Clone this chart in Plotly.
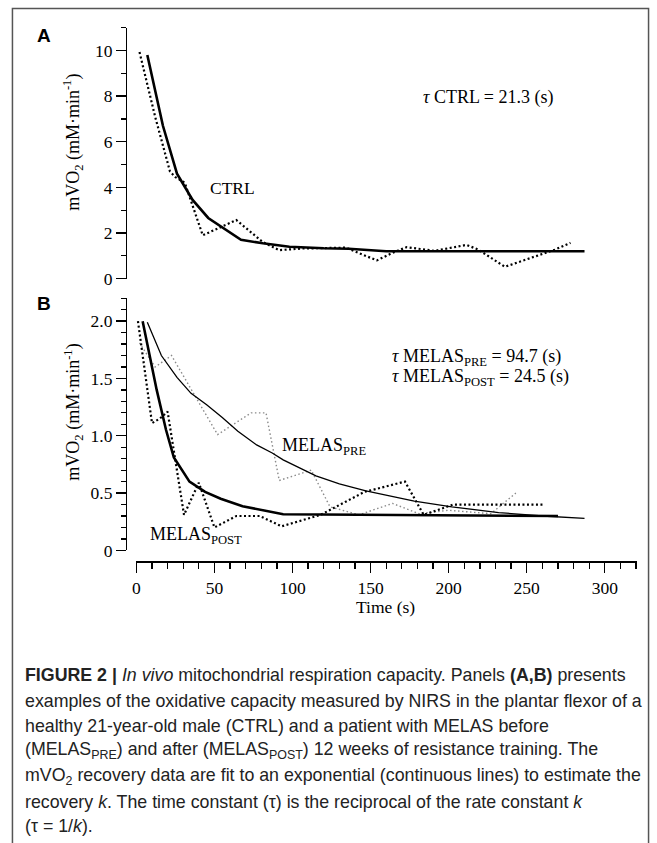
import plotly.graph_objects as go

# ---------------- data ----------------
ctrl_fit_t = [7, 17, 26, 36, 46, 57, 67, 81, 98, 120, 136, 160, 287]
ctrl_fit_v = [9.8, 6.7, 4.6, 3.45, 2.66, 2.15, 1.7, 1.55, 1.4, 1.33, 1.31, 1.2, 1.2]

ctrl_data_t = [2, 12, 21.5, 25, 31, 42.5, 64, 81, 91.5, 106, 134, 154, 164, 173, 191, 211.5, 219, 236, 268, 278]
ctrl_data_v = [9.93, 7.1, 4.7, 4.45, 4.2, 1.9, 2.57, 1.6, 1.25, 1.32, 1.36, 0.8, 1.13, 1.38, 1.22, 1.48, 1.27, 0.52, 1.27, 1.57]

pre_fit_t = [7, 16, 26, 35, 45, 55, 65, 77, 87, 94, 115, 130, 147, 157, 178, 202, 232, 260, 287]
pre_fit_v = [1.99, 1.70, 1.51, 1.37, 1.27, 1.16, 1.04, 0.92, 0.85, 0.79, 0.65, 0.58, 0.52, 0.49, 0.43, 0.38, 0.33, 0.30, 0.28]

pre_data_t = [2, 12, 22.5, 52, 73.5, 83, 91.5, 112, 124, 142.5, 164, 181, 200, 227, 243]
pre_data_v = [1.81, 1.60, 1.70, 1.01, 1.20, 1.20, 0.61, 0.70, 0.38, 0.31, 0.41, 0.32, 0.35, 0.32, 0.50]

post_fit_t = [4, 13, 19, 24, 34, 44, 54, 68, 94, 270]
post_fit_v = [2.0, 1.40, 1.05, 0.81, 0.60, 0.51, 0.45, 0.385, 0.315, 0.30]

post_data_t = [1, 10, 15, 20, 30.5, 40, 50, 64, 79, 93, 118, 146, 172, 184, 203, 261]
post_data_v = [2.0, 1.11, 1.15, 1.21, 0.31, 0.59, 0.20, 0.30, 0.30, 0.21, 0.31, 0.51, 0.60, 0.31, 0.40, 0.40]

x_ticks = [0, 50, 100, 150, 200, 250, 300]
ya_ticks = [0, 2, 4, 6, 8, 10]
yb_ticks = [0, 0.5, 1.0, 1.5, 2.0]
yb_ticktext = ["0", "0.5", "1.0", "1.5", "2.0"]

# ---------------- layout helpers ----------------
W, H = 657, 843
def px(x):
    return x / W
def py(y):
    return 1 - y / H

SERIF = "Liberation Serif, Times New Roman, serif"
SANS = "Liberation Sans, Arial, sans-serif"

fig = go.Figure()

# Panel A
fig.add_trace(go.Scatter(x=ctrl_data_t, y=ctrl_data_v, mode="lines",
                         line=dict(color="black", width=2.2, dash="2px,2.5px"),
                         xaxis="x", yaxis="y", showlegend=False, hoverinfo="skip"))
fig.add_trace(go.Scatter(x=ctrl_fit_t, y=ctrl_fit_v, mode="lines",
                         line=dict(color="black", width=2.6),
                         xaxis="x", yaxis="y", showlegend=False, hoverinfo="skip"))

# Panel B
fig.add_trace(go.Scatter(x=pre_data_t, y=pre_data_v, mode="lines",
                         line=dict(color="#8a8a8a", width=1.4, dash="1.5px,2.5px"),
                         xaxis="x2", yaxis="y2", showlegend=False, hoverinfo="skip"))
fig.add_trace(go.Scatter(x=post_data_t, y=post_data_v, mode="lines",
                         line=dict(color="black", width=2.2, dash="2px,2.5px"),
                         xaxis="x2", yaxis="y2", showlegend=False, hoverinfo="skip"))
fig.add_trace(go.Scatter(x=pre_fit_t, y=pre_fit_v, mode="lines",
                         line=dict(color="black", width=1.3),
                         xaxis="x2", yaxis="y2", showlegend=False, hoverinfo="skip"))
fig.add_trace(go.Scatter(x=post_fit_t, y=post_fit_v, mode="lines",
                         line=dict(color="black", width=2.6),
                         xaxis="x2", yaxis="y2", showlegend=False, hoverinfo="skip"))

x_dom = [px(133.2), px(636.5)]
x_rng = [0, (636.5 - 133.2) / 1.571]

tickfont = dict(family=SERIF, size=17.5, color="black")

yaxis_common = dict(anchor="free", position=px(122.7), side="left",
                    showline=True, linecolor="black", linewidth=1.3,
                    ticks="outside", ticklen=10, tickwidth=1.3, tickcolor="black",
                    showgrid=False, zeroline=False, tickfont=tickfont,
                    fixedrange=True)

fig.update_layout(
    width=W, height=H,
    margin=dict(l=0, r=0, t=0, b=0),
    paper_bgcolor="white", plot_bgcolor="white",
    xaxis=dict(domain=x_dom, range=x_rng, anchor="y", visible=False, fixedrange=True),
    yaxis=dict(domain=[py(282), py(28)], range=[0, 11],
               tickvals=ya_ticks, ticktext=[str(v) for v in ya_ticks],
               minor=dict(tickvals=[1, 3, 5, 7, 9, 11], ticks="outside",
                          ticklen=5, tickwidth=1.3, tickcolor="black", showgrid=False),
               **yaxis_common),
    xaxis2=dict(domain=x_dom, range=x_rng, anchor="free", position=py(568),
                showline=True, linecolor="black", linewidth=1.3,
                ticks="outside", ticklen=10, tickwidth=1.3, tickcolor="black",
                tickvals=x_ticks, ticktext=[str(v) for v in x_ticks],
                minor=dict(dtick=10, tick0=0, ticks="outside", ticklen=6,
                           tickwidth=1.3, tickcolor="black", showgrid=False),
                showgrid=False, zeroline=False, tickfont=tickfont, fixedrange=True),
    yaxis2=dict(domain=[py(557), py(301.8)], range=[0, 2.2],
                tickvals=yb_ticks, ticktext=yb_ticktext,
                minor=dict(dtick=0.1, tick0=0, ticks="outside",
                           ticklen=5, tickwidth=1.3, tickcolor="black", showgrid=False),
                **yaxis_common),
)

ann = []
def add_text(text, x, y, size=17.5, family=SERIF, xanchor="center", yanchor="middle",
             angle=0, color="black"):
    ann.append(dict(text=text, x=px(x), y=py(y), xref="paper", yref="paper",
                    xanchor=xanchor, yanchor=yanchor, showarrow=False,
                    textangle=angle, font=dict(family=family, size=size, color=color)))

# panel letters
add_text("<b>A</b>", 40, 36, size=19, family=SANS)
add_text("<b>B</b>", 40, 307, size=19, family=SANS)

# axis titles
ytitle = "mVO<sub>2</sub> (mM·min<sup>-1</sup>)"
add_text(ytitle, 69, 144, size=18, angle=-90)
add_text(ytitle, 69, 417, size=18, angle=-90)
add_text("Time (s)", 384, 614)

# in-plot labels
add_text("<i>τ</i> CTRL = 21.3 (s)", 420, 98.5, size=18, xanchor="left")
add_text("CTRL", 229.5, 190.5)
add_text("<i>τ</i> MELAS<sub>PRE</sub> = 94.7 (s)", 388, 362, size=18, xanchor="left")
add_text("<i>τ</i> MELAS<sub>POST</sub> = 24.5 (s)", 388, 382, size=18, xanchor="left")
add_text("MELAS<sub>PRE</sub>", 278, 452, size=18, xanchor="left")
add_text("MELAS<sub>POST</sub>", 145, 542, size=18, xanchor="left")

# caption
caption_lines = [
    "<b>FIGURE 2 |</b> <i>In vivo</i> mitochondrial respiration capacity. Panels <b>(A,B)</b> presents",
    "examples of the oxidative capacity measured by NIRS in the plantar flexor of a",
    "healthy 21-year-old male (CTRL) and a patient with MELAS before",
    "(MELAS<sub>PRE</sub>) and after (MELAS<sub>POST</sub>) 12 weeks of resistance training. The",
    "mVO<sub>2</sub> recovery data are fit to an exponential (continuous lines) to estimate the",
    "recovery <i>k</i>. The time constant (τ) is the reciprocal of the rate constant <i>k</i>",
    "(τ = 1/<i>k</i>).",
]
caption_y = [683, 709, 735, 760, 786, 812, 836]
for line, yy in zip(caption_lines, caption_y):
    add_text(line, 19.5, yy, size=17.8, family=SANS, xanchor="left", color="#222222")

fig.update_layout(annotations=ann)

# frame around the figure
fig.add_shape(type="rect", xref="paper", yref="paper",
              x0=px(8.5), x1=px(648.5), y0=py(860), y1=py(8.5),
              line=dict(color="#555555", width=1.5), fillcolor="rgba(0,0,0,0)")

fig.write_html("out.html",
               config={"displayModeBar": False, "staticPlot": True},
               post_script="document.body.style.margin='0px';"
                           "document.body.style.overflow='hidden';")
